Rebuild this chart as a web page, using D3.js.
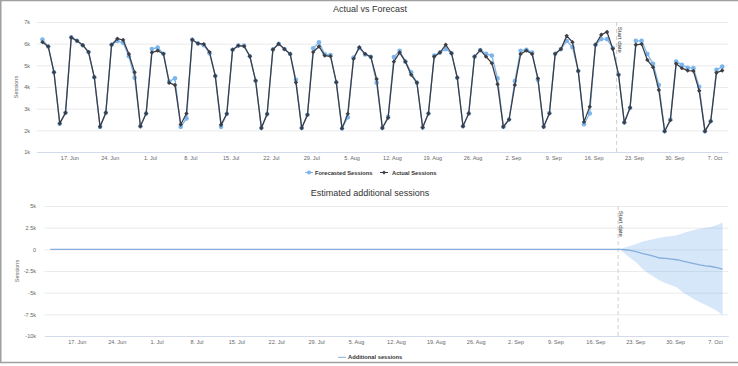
<!DOCTYPE html>
<html>
<head>
<meta charset="utf-8">
<script src="https://cdn.jsdelivr.net/npm/d3@7"></script>
<style>
body { margin: 0; background: #fff; }
svg { display: block; font-family: "Liberation Sans", Arial, Helvetica, sans-serif; }
</style>
</head>
<body>
<div id="chart-holder"></div>
<script>
// DATA
// daily points, first one on 12 Jun 2019
var firstDay = "2019-06-12";
var startDate = "2019-09-20";

var actualSessions = [
    6070, 5870, 4680, 2320, 2810, 6290, 6130, 5930, 5610, 4450,
    2160, 2810, 5950, 6230, 6170, 5520, 4680, 2190, 2780, 5590,
    5680, 5530, 4190, 4090, 2270, 2780, 6180, 6010, 5980, 5610,
    4510, 2260, 2760, 5720, 5910, 5880, 5420, 4290, 2110, 2750,
    5730, 5990, 5750, 5520, 4210, 2110, 2720, 5610, 5870, 5450,
    5420, 4220, 2090, 2760, 5300, 5840, 5530, 5390, 4370, 2110,
    2580, 5170, 5590, 5170, 4560, 4200, 2130, 2780, 5400, 5590,
    5950, 5560, 4430, 2190, 2780, 5400, 5700, 5400, 5100, 4130,
    2160, 2500, 4090, 5520, 5680, 5520, 4400, 2160, 2780, 5530,
    5750, 6360, 6070, 4740, 2390, 3090, 5950, 6410, 6540, 5760,
    4560, 2360, 3040, 5950, 5980, 5250, 4910, 3860, 1960, 2470,
    5070, 4870, 4760, 4740, 3830, 1960, 2420, 4660, 4760
];

var forecastSessions = [
    6190, 5870, 4680, 2300, 2810, 6290, 6130, 5930, 5610, 4450,
    2160, 2810, 5950, 6130, 6040, 5420, 4430, 2190, 2780, 5750,
    5820, 5530, 4250, 4400, 2160, 2550, 6180, 6010, 5930, 5560,
    4510, 2160, 2760, 5720, 5910, 5910, 5420, 4290, 2110, 2750,
    5730, 5990, 5750, 5520, 4330, 2110, 2720, 5790, 6060, 5510,
    5480, 4220, 2090, 2600, 5360, 5800, 5500, 5390, 4200, 2110,
    2620, 5380, 5670, 5170, 4680, 4200, 2130, 2780, 5450, 5590,
    5750, 5560, 4430, 2190, 2780, 5400, 5700, 5530, 5450, 4400,
    2160, 2500, 4280, 5670, 5720, 5590, 4330, 2160, 2800, 5530,
    5750, 6130, 5840, 4740, 2280, 2780, 5950, 6210, 6210, 5800,
    4560, 2360, 3040, 6130, 6130, 5520, 5070, 4090, 1960, 2500,
    5170, 5020, 4890, 4870, 4010, 1960, 2420, 4790, 4940
];

// flat at zero before the start date
var additionalSessions = [
    0, 0, 0, 0, 0, 0, 0, 0, 0, 0, 0, 0, 0, 0, 0, 0, 0, 0, 0, 0,
    0, 0, 0, 0, 0, 0, 0, 0, 0, 0, 0, 0, 0, 0, 0, 0, 0, 0, 0, 0,
    0, 0, 0, 0, 0, 0, 0, 0, 0, 0, 0, 0, 0, 0, 0, 0, 0, 0, 0, 0,
    0, 0, 0, 0, 0, 0, 0, 0, 0, 0, 0, 0, 0, 0, 0, 0, 0, 0, 0, 0,
    0, 0, 0, 0, 0, 0, 0, 0, 0, 0, 0, 0, 0, 0, 0, 0, 0, 0, 0, 0,
    0, -50, -150, -300, -500, -650, -800, -1000, -1050, -1120,
    -1200, -1350, -1500, -1650, -1800, -1900, -1980, -2100, -2270
];
// interval band, from 20 Sep (index 100) to the end
var bandStartIndex = 100;
var additionalUpper = [0, 250, 450, 650, 900, 1050, 1200, 1330, 1450, 1500, 1620, 1850, 2050, 2230, 2380, 2500, 2600, 2800, 3100];
var additionalLower = [0, -600, -1100, -1600, -2300, -2800, -3200, -3600, -3900, -4150, -4400, -4950, -5350, -5770, -6100, -6400, -6750, -7100, -7600];

var weekTicks = ["2019-06-17", "2019-06-24", "2019-07-01", "2019-07-08", "2019-07-15", "2019-07-22",
    "2019-07-29", "2019-08-05", "2019-08-12", "2019-08-19", "2019-08-26", "2019-09-02",
    "2019-09-09", "2019-09-16", "2019-09-23", "2019-09-30", "2019-10-07"];
var topTicks = [1000, 2000, 3000, 4000, 5000, 6000, 7000];
var bottomTicks = [-10000, -7500, -5000, -2500, 0, 2500, 5000];

// DEFINE VARIABLES
w = 738;
h = 366;
var blue = "#7cb5ec";
var dark = "#3d3d44";
var gridColor = "#e6e6e6";
var axisColor = "#ccd6eb";

var parseDay = d3.utcParse("%Y-%m-%d");
// points sit 8 hours after the midnight ticks
var days = actualSessions.map((v, i) => d3.utcHour.offset(d3.utcDay.offset(parseDay(firstDay), i), 8));
var tickDates = weekTicks.map(parseDay);
var xDomain = [d3.utcDay.offset(days[0], -1), d3.utcDay.offset(days[days.length - 1], 1)];
var fmtDate = d3.utcFormat("%-d. %b");
var fmtK = (v) => v === 0 ? "0" : (v / 1000) + "k";

var svg = d3
    .select("#chart-holder")
    .append("svg")
    .attr("width", w)
    .attr("height", h);

svg.append("rect")
    .attr("width", w)
    .attr("height", h)
    .attr("fill", "#fff");

// frame round the screenshot
svg.append("rect")
    .attr("x", 0.75)
    .attr("y", 0.5)
    .attr("width", w + 10)
    .attr("height", 362)
    .attr("fill", "none")
    .attr("stroke", "#a0a0a0")
    .attr("stroke-width", 1.5);

function drawFrame(box, x, y, ticks, labelGap, titleX, title) {
    // grid + y labels
    var gy = svg.append("g")
        .attr("transform", `translate(${box.left},0)`)
        .call(d3.axisLeft(y)
            .tickValues(ticks)
            .tickFormat(fmtK)
            .tickSize(-(box.right - box.left))
            .tickPadding(labelGap));
    gy.select(".domain").remove();
    gy.selectAll("line").attr("stroke", gridColor).attr("stroke-width", 0.8);
    gy.selectAll("text")
        .attr("fill", "#666")
        .attr("font-size", 5.5)
        .attr("font-family", null);

    // x labels
    var gx = svg.append("g")
        .attr("transform", `translate(0,${box.bottom})`)
        .call(d3.axisBottom(x)
            .tickValues(tickDates)
            .tickFormat(fmtDate)
            .tickSize(0)
            .tickSizeOuter(0)
            .tickPadding(4.5));
    gx.select(".domain").attr("stroke", axisColor).attr("stroke-width", 0.8);
    gx.selectAll("text")
        .attr("fill", "#666")
        .attr("font-size", 5.5)
        .attr("font-family", null);

    // axis title
    svg.append("text")
        .attr("transform", `translate(${titleX},${(box.top + box.bottom) / 2}) rotate(-90)`)
        .attr("text-anchor", "middle")
        .attr("fill", "#666")
        .attr("font-size", 5.5)
        .text("Sessions");

    // chart title
    svg.append("text")
        .attr("x", 370)
        .attr("y", box.top - 10)
        .attr("text-anchor", "middle")
        .attr("fill", "#333")
        .attr("font-size", 9)
        .text(title);

    // start date plot line
    var sx = x(parseDay(startDate));
    svg.append("line")
        .attr("x1", sx).attr("x2", sx)
        .attr("y1", box.top).attr("y2", box.bottom)
        .attr("stroke", "#cfcfcf")
        .attr("stroke-width", 1)
        .attr("stroke-dasharray", "4,3");
    svg.append("text")
        .attr("transform", `translate(${sx + 1.3},${box.top + 4.8}) rotate(90)`)
        .attr("fill", "#333")
        .attr("font-size", 6)
        .text("Start date");
}

function diamond(cx, cy, r) {
    return `M${cx},${cy - r}L${cx + r},${cy}L${cx},${cy + r}L${cx - r},${cy}Z`;
}

// TOP CHART: Actual vs Forecast
var top1 = { left: 36.7, right: 728, top: 22, bottom: 152 };
var x1 = d3.scaleUtc().domain(xDomain).range([top1.left, top1.right]);
var y1 = d3.scaleLinear().domain([1000, 7000]).range([top1.bottom, top1.top]);
drawFrame(top1, x1, y1, topTicks, 6.7, 17.5, "Actual vs Forecast");

var line1 = d3.line()
    .x((d, i) => x1(days[i]))
    .y(d => y1(d));

svg.append("path")
    .datum(forecastSessions)
    .attr("d", line1)
    .attr("fill", "none")
    .attr("stroke", blue)
    .attr("stroke-width", 1.3);
svg.append("g")
    .selectAll("circle")
    .data(forecastSessions)
    .enter()
    .append("circle")
    .attr("cx", (d, i) => x1(days[i]))
    .attr("cy", d => y1(d))
    .attr("r", 2.3)
    .attr("fill", blue);

svg.append("path")
    .datum(actualSessions)
    .attr("d", line1)
    .attr("fill", "none")
    .attr("stroke", dark)
    .attr("stroke-width", 1.3);
svg.append("g")
    .selectAll("path")
    .data(actualSessions)
    .enter()
    .append("path")
    .attr("d", (d, i) => diamond(x1(days[i]), y1(d), 2.2))
    .attr("fill", dark);

// legend
var lg = svg.append("g").attr("font-size", 5.75).attr("font-weight", "bold").attr("fill", "#333");
lg.append("line").attr("x1", 305).attr("x2", 313).attr("y1", 172.5).attr("y2", 172.5).attr("stroke", blue).attr("stroke-width", 1);
lg.append("circle").attr("cx", 309).attr("cy", 172.5).attr("r", 2).attr("fill", blue);
lg.append("text").attr("x", 315).attr("y", 174.5).text("Forecasted Sessions");
lg.append("line").attr("x1", 380).attr("x2", 388).attr("y1", 172.5).attr("y2", 172.5).attr("stroke", dark).attr("stroke-width", 1);
lg.append("path").attr("d", diamond(384, 172.5, 2)).attr("fill", dark);
lg.append("text").attr("x", 392).attr("y", 174.5).text("Actual Sessions");

// BOTTOM CHART: Estimated additional sessions
var box2 = { left: 44.5, right: 728.3, top: 206, bottom: 336 };
var x2 = d3.scaleUtc().domain(xDomain).range([box2.left, box2.right]);
var y2 = d3.scaleLinear().domain([-10000, 5000]).range([box2.bottom, box2.top]);
drawFrame(box2, x2, y2, bottomTicks, 8.5, 18.5, "Estimated additional sessions");

var band = d3.area()
    .x((d, i) => x2(days[bandStartIndex + i]))
    .y0((d, i) => y2(additionalLower[i]))
    .y1(d => y2(d));
svg.append("path")
    .datum(additionalUpper)
    .attr("d", band)
    .attr("fill", blue)
    .attr("fill-opacity", 0.32);

svg.append("path")
    .datum(additionalSessions)
    .attr("d", d3.line().x((d, i) => x2(days[i])).y(d => y2(d)))
    .attr("fill", "none")
    .attr("stroke", "#86addb")
    .attr("stroke-width", 1.3);

var lg2 = svg.append("g").attr("font-size", 5.75).attr("font-weight", "bold").attr("fill", "#333");
lg2.append("line").attr("x1", 338).attr("x2", 346).attr("y1", 357.3).attr("y2", 357.3).attr("stroke", "#86addb").attr("stroke-width", 1);
lg2.append("text").attr("x", 348).attr("y", 359.3).text("Additional sessions");
</script>
</body>
</html>
